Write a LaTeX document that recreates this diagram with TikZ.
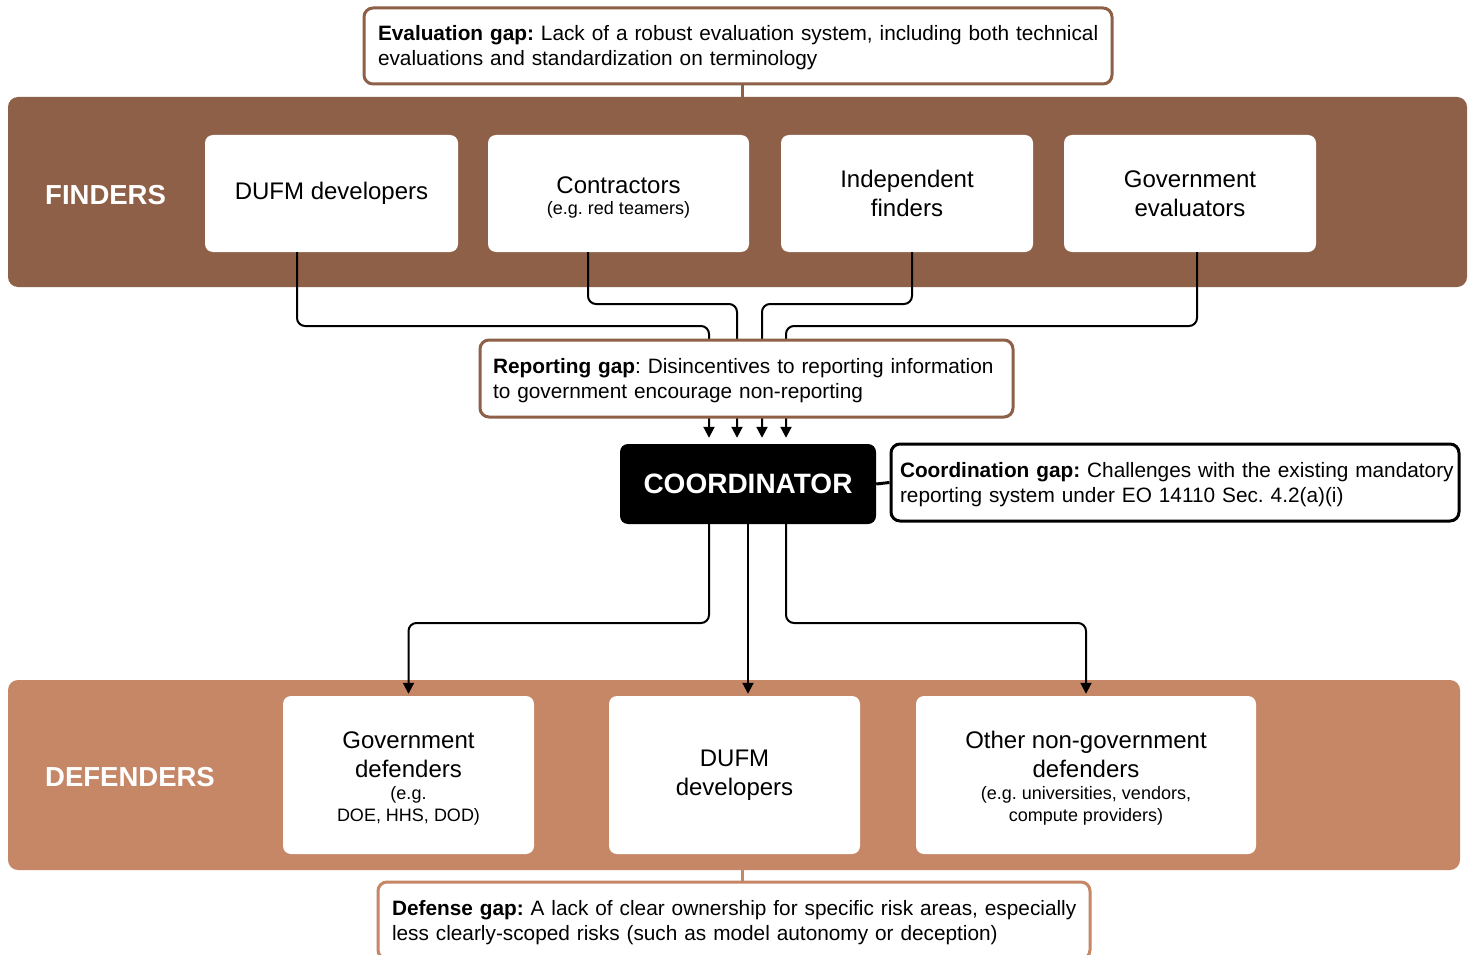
\documentclass[tikz,border=0pt]{standalone}
\usepackage{fontspec}
\setmainfont{Liberation Sans}
\usetikzlibrary{arrows.meta}
\definecolor{finbrown}{RGB}{143,96,72}
\definecolor{defbrown}{RGB}{198,135,103}
\newcommand{\gapfont}{\fontsize{20.8}{25}\selectfont}
\newcommand{\boxfont}{\fontsize{24}{29}\selectfont}
\newcommand{\smallfont}{\fontsize{18}{22}\selectfont}
\frenchspacing
\hbadness=10000 \hfuzz=50pt
\begin{document}
\begin{tikzpicture}[x=1pt,y=-1pt,
  band/.style={rounded corners=10pt, inner sep=0pt},
  wbox/.style={fill=white, rounded corners=8pt, align=center, inner sep=0pt, font=\boxfont},
  gapbox/.style={draw, line width=3pt, fill=white, rounded corners=9pt, align=left, inner ysep=0pt, font=\gapfont},
  conn/.style={line width=2pt, rounded corners=8pt},
  arr/.style={conn, -{Triangle[length=11pt,width=11pt]}},
  bandlabel/.style={font=\fontsize{27.5}{30}\selectfont\bfseries, text=white, anchor=west, inner sep=0pt},
]
\useasboundingbox[fill=white] (0,0) rectangle (1473,955);

% bands
\node[band, fill=finbrown, minimum width=1459pt, minimum height=190pt] (fband) at (737.5,192) {};
\node[band, fill=defbrown, minimum width=1452pt, minimum height=190pt] (dband) at (734,775) {};
\node[bandlabel] (flab) at (45,195) {FINDERS};
\node[bandlabel] (dlab) at (45,777) {DEFENDERS};

% finder boxes
\node[wbox, minimum width=253pt, minimum height=117pt] (fdufm) at (331.5,193.5) {DUFM developers};
\node[wbox, minimum width=261pt, minimum height=117pt] (fcon) at (618.5,193.5) {\rule{0pt}{24pt}Contractors\\[-8pt]{\smallfont (e.g. red teamers)}};
\node[wbox, minimum width=252pt, minimum height=117pt] (find) at (907,193.5) {Independent\\finders};
\node[wbox, minimum width=252pt, minimum height=117pt] (fgov) at (1190,193.5) {Government\\evaluators};

% coordinator
\node[fill=black, rounded corners=8pt, minimum width=256pt, minimum height=80pt, inner sep=0pt,
      text=white, font=\fontsize{28}{30}\selectfont\bfseries] (coord) at (748,484) {COORDINATOR};

% defender boxes
\node[wbox, minimum width=251pt, minimum height=158pt] (dgov) at (408.5,775) {\rule{0pt}{24pt}Government\\defenders\\[-7pt]{\smallfont (e.g.}\\[-7pt]{\smallfont DOE, HHS, DOD)}};
\node[wbox, minimum width=251pt, minimum height=158pt] (ddufm) at (734.5,775) {DUFM\\developers};
\node[wbox, minimum width=340pt, minimum height=158pt] (doth) at (1086,775) {\rule{0pt}{24pt}Other non-government\\defenders\\[-7pt]{\smallfont (e.g. universities, vendors,}\\[-7pt]{\smallfont compute providers)}};

% helper coordinates
\coordinate (hya) at (0,326);
\coordinate (hyb) at (0,304);
\coordinate (hyc) at (0,623);
\coordinate (in1) at ([xshift=-39pt]coord.north);
\coordinate (in2) at ([xshift=-11pt]coord.north);
\coordinate (in3) at ([xshift=14pt]coord.north);
\coordinate (in4) at ([xshift=38pt]coord.north);
\coordinate (out1) at ([xshift=-39pt]coord.south);
\coordinate (out3) at ([xshift=38pt]coord.south);

% finder -> coordinator connectors
\draw[arr, shorten >=6pt] ([xshift=-34.5pt]fdufm.south) |- (in1 |- hya) -- (in1);
\draw[arr, shorten >=6pt] ([xshift=-30.5pt]fcon.south) |- (in2 |- hyb) -- (in2);
\draw[arr, shorten >=6pt] ([xshift=5pt]find.south) |- (in3 |- hyb) -- (in3);
\draw[arr, shorten >=6pt] ([xshift=7pt]fgov.south) |- (in4 |- hya) -- (in4);

% gap boxes
\node[gapbox, draw=finbrown, minimum width=748pt, minimum height=76pt, text width=720pt, inner xsep=14pt] (eval) at (738,46)
  {\rule{0pt}{19pt}\mbox{\textbf{Evaluation gap:} Lack of a robust evaluation system, including both technical}\\\mbox{evaluations and standardization on terminology}};
\node[gapbox, draw=finbrown, minimum width=533pt, minimum height=77pt, text width=507pt, inner xsep=13pt] (rep) at (746.5,378.5)
  {\rule{0pt}{19pt}\mbox{\textbf{Reporting gap}: Disincentives to reporting information}\\\mbox{to government encourage non-reporting}};
\node[gapbox, draw=black, minimum width=568pt, minimum height=77pt, text width=550pt, inner xsep=9pt] (cgap) at (1175,482.5)
  {\rule{0pt}{19pt}\mbox{\textbf{Coordination gap:} Challenges with the existing mandatory}\\\mbox{reporting system under EO 14110 Sec. 4.2(a)(i)}};
\node[gapbox, draw=defbrown, minimum width=712pt, minimum height=77pt, text width=684pt, inner xsep=14pt] (dgap) at (734,920.5)
  {\rule{0pt}{19pt}\mbox{\textbf{Defense gap:} A lack of clear ownership for specific risk areas, especially}\\\mbox{less clearly-scoped risks (such as model autonomy or deception)}};

% gap connectors
\draw[finbrown, line width=3pt] ([xshift=4pt]eval.south) -- ([xshift=4pt]eval.south |- fband.north);
\draw[defbrown, line width=3pt] ([xshift=8pt]dgap.north) -- ([xshift=8pt]dgap.north |- dband.south);
\draw[line width=3pt] (coord.east) -- (cgap.west);

% coordinator -> defender connectors
\draw[arr, shorten >=2pt] (out1) |- (dgov.north |- hyc) -- (dgov.north);
\draw[arr, shorten >=2pt] (coord.south) -- (coord.south |- ddufm.north);
\draw[arr, shorten >=2pt] (out3) |- (doth.north |- hyc) -- (doth.north);
\end{tikzpicture}
\end{document}
